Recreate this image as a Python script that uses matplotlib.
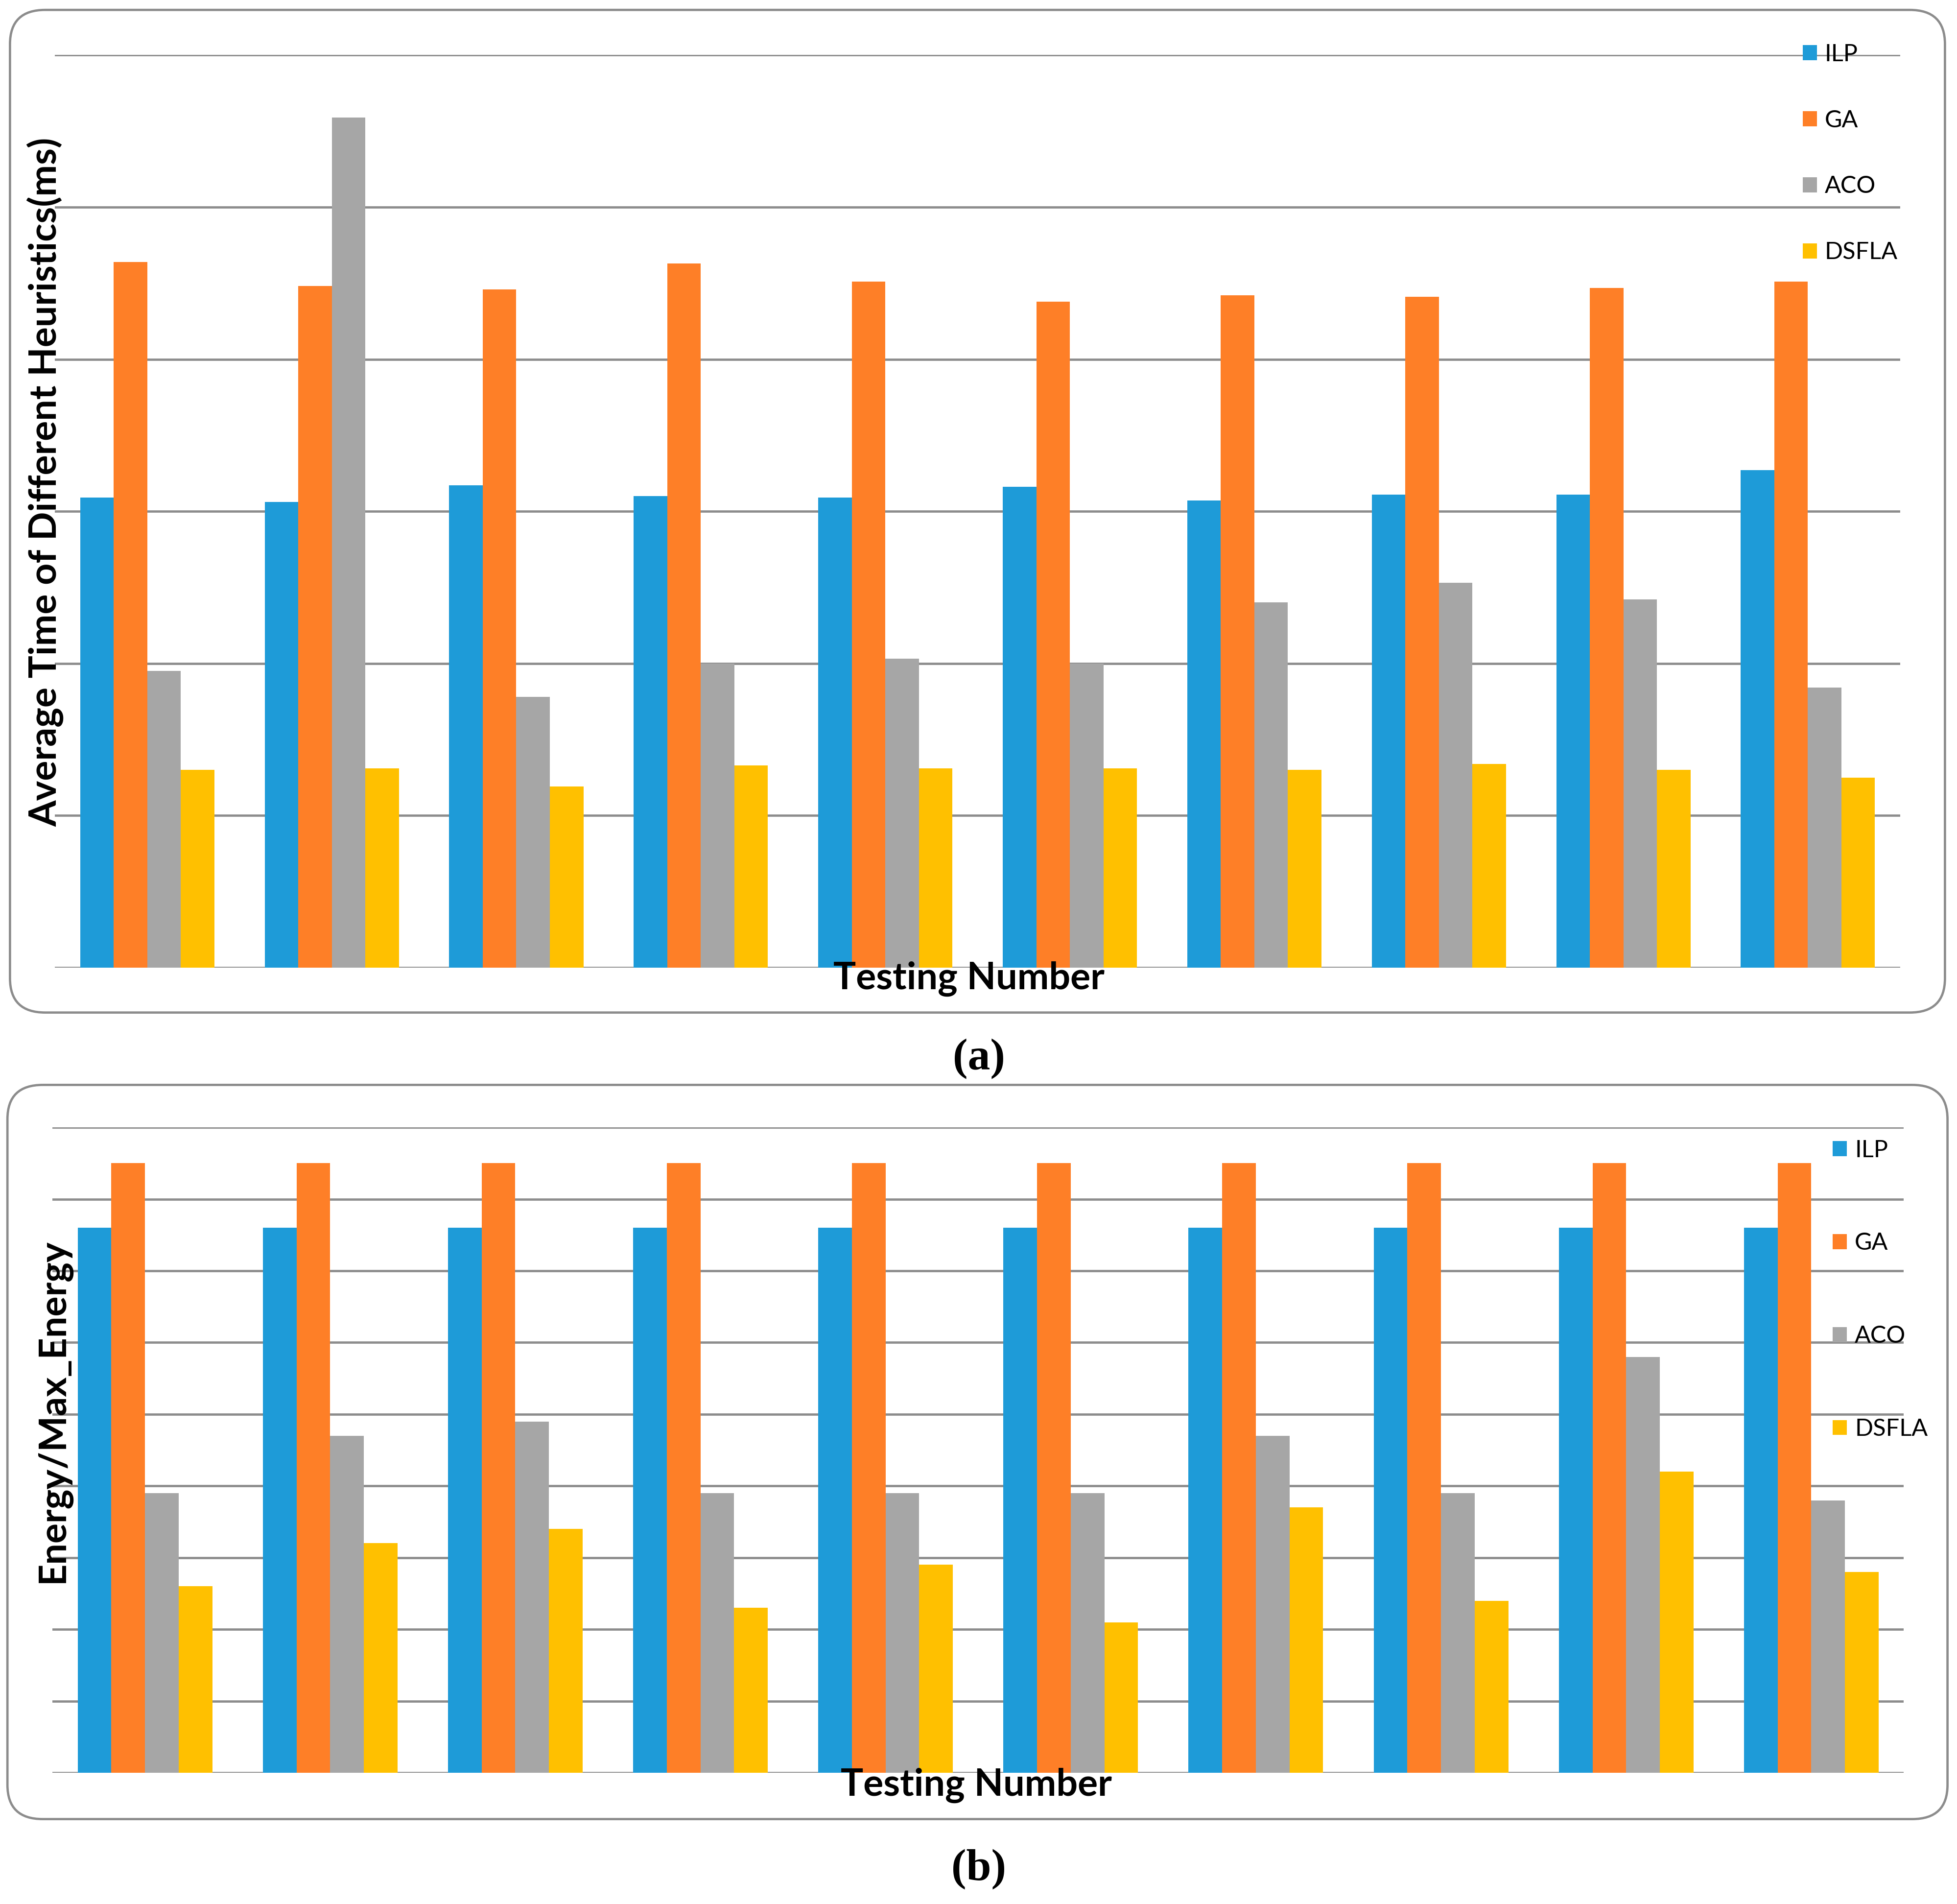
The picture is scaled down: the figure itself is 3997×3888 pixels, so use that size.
import numpy as np
import matplotlib
matplotlib.use('Agg')
import matplotlib.pyplot as plt
from matplotlib.patches import FancyBboxPatch

plt.rcParams['font.family'] = ['Lato', 'DejaVu Sans']

tests = list(range(1, 11))
series = ['ILP', 'GA', 'ACO', 'DSFLA']
colors = ['#1E9BD8', '#FE7F27', '#A6A6A6', '#FFC000']

# (a) average time of the heuristics (no tick labels in the source, grid units)
time_ilp = [3.09, 3.06, 3.17, 3.10, 3.09, 3.16, 3.07, 3.11, 3.11, 3.27]
time_ga = [4.64, 4.48, 4.46, 4.63, 4.51, 4.38, 4.42, 4.41, 4.47, 4.51]
time_aco = [1.95, 5.59, 1.78, 2.00, 2.03, 2.00, 2.40, 2.53, 2.42, 1.84]
time_dsfla = [1.30, 1.31, 1.19, 1.33, 1.31, 1.31, 1.30, 1.34, 1.30, 1.25]

# (b) energy / max energy
en_ilp = [7.6] * 10
en_ga = [8.5] * 10
en_aco = [3.9, 4.7, 4.9, 3.9, 3.9, 3.9, 4.7, 3.9, 5.8, 3.8]
en_dsfla = [2.6, 3.2, 3.4, 2.3, 2.9, 2.1, 3.7, 2.4, 4.2, 2.8]

GRID = '#8C8C8C'

fig = plt.figure(figsize=(39.98, 38.88), dpi=100)


def panel(rect, data, ymax, ylabel, ylabel_xy, xlabel_xy, leg_anchor, leg_space):
    ax = fig.add_axes(rect)
    x = np.arange(len(tests))
    w = 1 / 5.5
    bars = []
    for i, (vals, c) in enumerate(zip(data, colors)):
        b = ax.bar(x + (i - 1.5) * w, vals, w, color=c, label=series[i], zorder=2)
        bars.append(b)
    ax.set_xlim(-0.5, len(tests) - 0.5)
    ax.set_ylim(0, ymax)
    ax.set_yticks(range(0, ymax + 1))
    ax.yaxis.grid(True, color=GRID, linewidth=3.4)
    ax.set_axisbelow(True)
    ax.tick_params(left=False, bottom=False, labelleft=False, labelbottom=False)
    for s in ax.spines.values():
        s.set_visible(False)
    ax.set_xticks([])
    ax.patch.set_alpha(0)
    fig.text(ylabel_xy[0], ylabel_xy[1], ylabel, rotation=90, ha='center', va='center',
             fontsize=55.5, fontweight='bold')
    fig.text(xlabel_xy[0], xlabel_xy[1], 'Testing Number', ha='center', va='center',
             fontsize=55.5, fontweight='bold')
    fig.legend(handles=bars, labels=series, loc='upper left', bbox_to_anchor=leg_anchor,
               bbox_transform=fig.transFigure, frameon=False, fontsize=35,
               handlelength=0.6, handleheight=0.6, handletextpad=0.33,
               labelspacing=leg_space, borderpad=0, borderaxespad=0)
    return ax


def box(x0, y0, x1, y1):
    p = FancyBboxPatch((x0, y0), x1 - x0, y1 - y0,
                       boxstyle='round,pad=0,rounding_size=0.018',
                       transform=fig.transFigure, facecolor='none',
                       edgecolor=GRID, linewidth=3.4, zorder=0)
    fig.patches.append(p)


box(0.0051, 0.4682, 0.9936, 0.9948)
box(0.0038, 0.0446, 0.9949, 0.4302)

panel([0.0281, 0.4918, 0.9426, 0.4793],
      [time_ilp, time_ga, time_aco, time_dsfla], 6,
      'Average Time of Different Heuristics(ms)', (0.0232, 0.7469), (0.4949, 0.4859),
      (0.9209, 0.9772), 1.87)

panel([0.0268, 0.0689, 0.9458, 0.3390],
      [en_ilp, en_ga, en_aco, en_dsfla], 9,
      'Energy/Max_Energy', (0.0272, 0.2590), (0.4987, 0.0623),
      (0.9362, 0.4016), 3.0)

fig.text(0.5, 0.4439, '(a)', ha='center', va='center', fontsize=66,
         fontweight='bold', family=['Liberation Serif', 'DejaVu Serif'])
fig.text(0.5, 0.0184, '(b)', ha='center', va='center', fontsize=66,
         fontweight='bold', family=['Liberation Serif', 'DejaVu Serif'])

fig.savefig('out.png', dpi=100, facecolor='white')
